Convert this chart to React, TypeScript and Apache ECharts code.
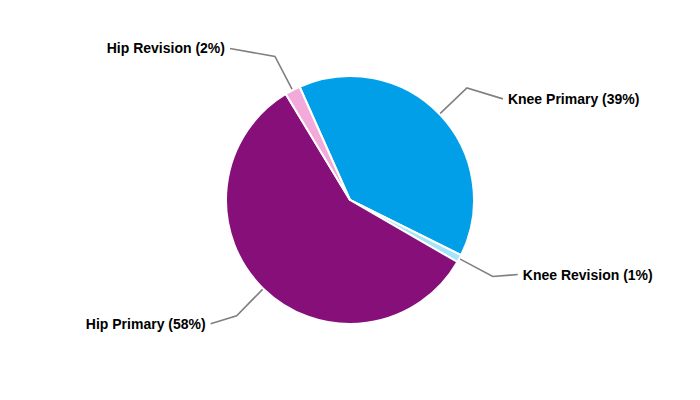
import React, { useEffect, useRef } from "react";
import * as echarts from "echarts";

const categories = ["Knee Primary", "Knee Revision", "Hip Primary", "Hip Revision"];
const values = [39, 1, 58, 2];
const colors = ["#009FE8", "#A6E4F9", "#870F7A", "#F2AADB"];
// label leader tweaks (styling only)
const leaderLength2 = [36, 25, 26, 45];
const labelShiftY = [11, -2, 8, -8];

export default function App() {
  const ref = useRef<HTMLDivElement>(null);
  useEffect(() => {
    document.body.style.margin = "0";
    const chart = echarts.init(ref.current!, null, { renderer: "svg" });
    const total = values.reduce((a, b) => a + b, 0);
    chart.setOption({
      animation: false,
      backgroundColor: "#ffffff",
      series: [
        {
          type: "pie",
          center: [350, 200],
          radius: 124,
          startAngle: 114,
          clockwise: true,
          itemStyle: { borderColor: "#ffffff", borderWidth: 2 },
          label: {
            show: true,
            color: "#000000",
            fontFamily: "Liberation Sans, Arial, sans-serif",
            fontWeight: "bold",
            fontSize: 14,
            distanceToLabelLine: 5,
            formatter: (p: any) => `${p.name} (${Math.round((p.value / total) * 100)}%)`,
          },
          labelLine: {
            show: true,
            length: 38,
            length2: 30,
            lineStyle: { color: "#808080", width: 1.6 },
          },
          labelLayout: (params: any) => {
            const dy = labelShiftY[params.dataIndex] || 0;
            const pts = params.labelLinePoints;
            const rect = params.labelRect;
            const out: any = { y: rect.y + rect.height / 2 + dy };
            if (pts && pts.length === 3) {
              const p = pts.map((q: number[]) => [q[0], q[1]]);
              p[2][1] += dy;
              out.labelLinePoints = p;
            }
            return out;
          },
          data: categories.map((name, i) => ({
            name,
            value: values[i],
            itemStyle: { color: colors[i] },
            labelLine: { length2: leaderLength2[i] },
          })),
        },
      ],
    });
    return () => chart.dispose();
  }, []);
  return <div ref={ref} style={{ width: 700, height: 400 }} />;
}
